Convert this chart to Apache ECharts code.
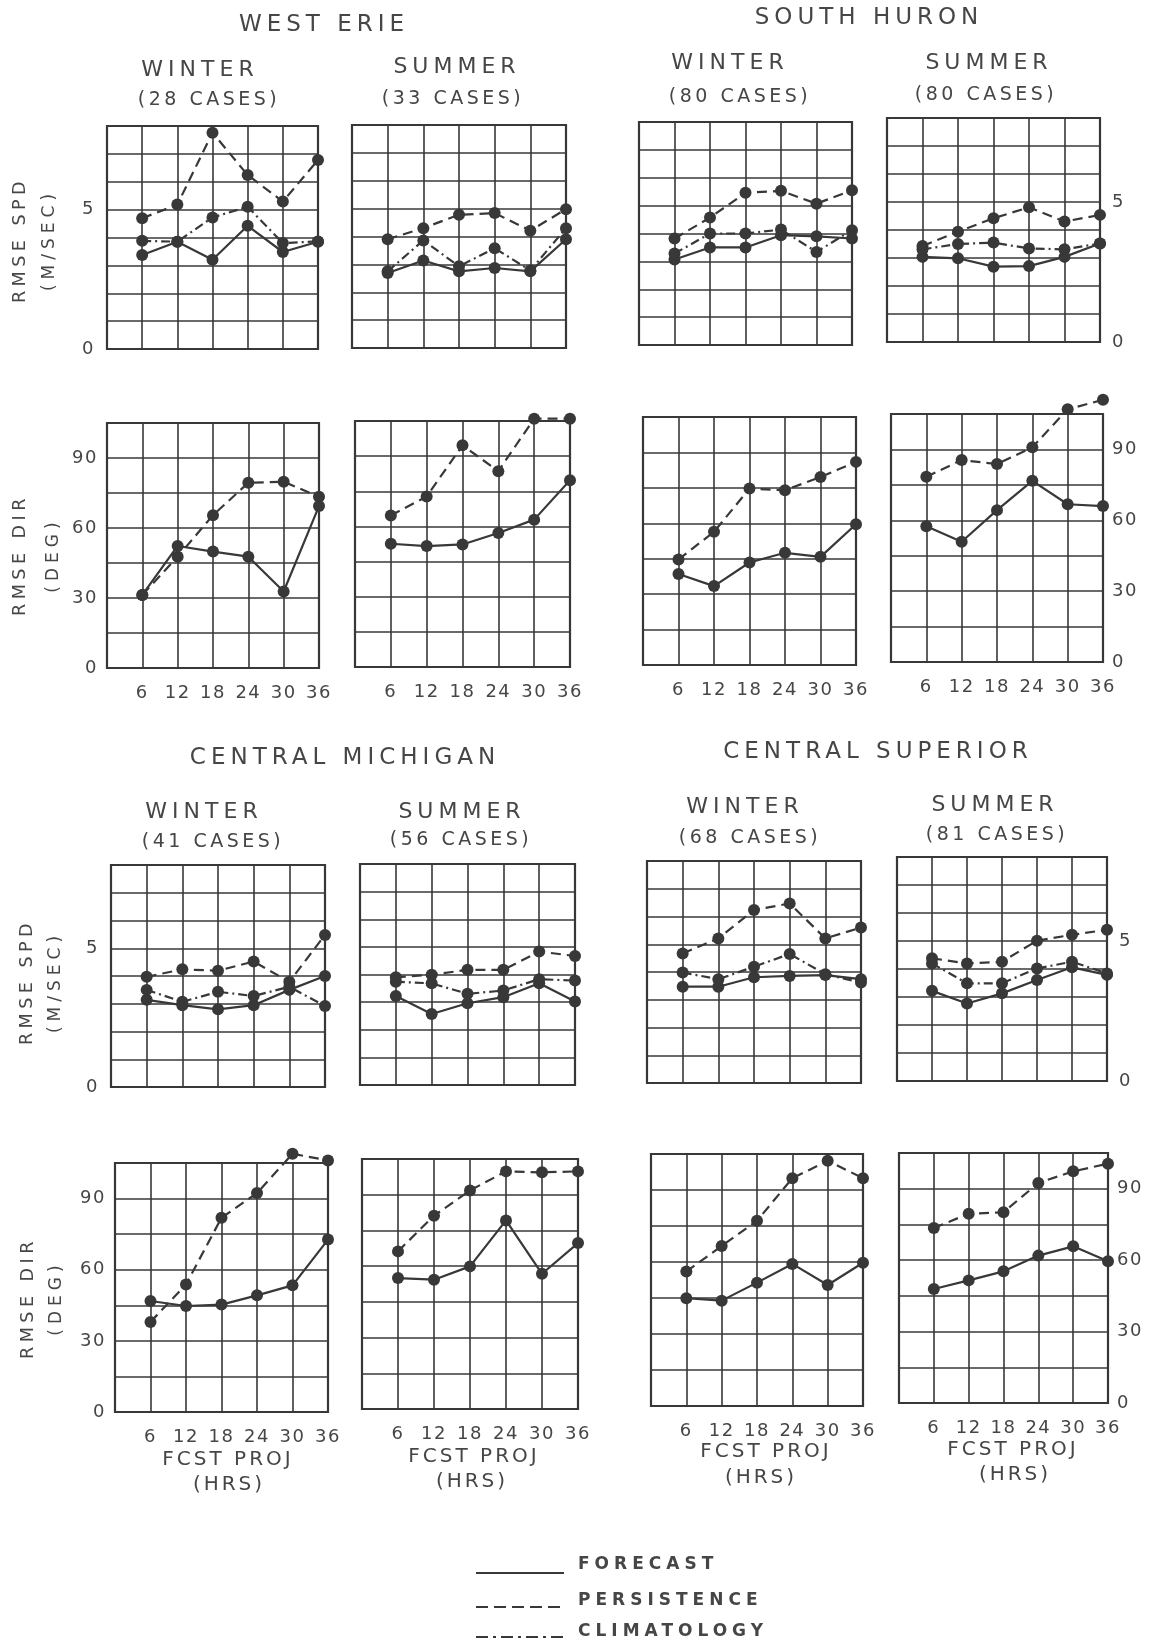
<!DOCTYPE html>
<html>
<head>
<meta charset="utf-8">
<script src="https://cdn.jsdelivr.net/npm/echarts@6/dist/echarts.min.js"></script>
<style>
html,body{margin:0;padding:0;background:#fff;}
#chart{width:1153px;height:1650px;}
</style>
</head>
<body>
<div id="chart"></div>
<script>
// ---------- DATA ----------
const hours = [6, 12, 18, 24, 30, 36];
const spdTickLabels = [0, 5];
const dirTickLabels = [0, 30, 60, 90];

// West Erie
const weWinSpdFcst = [3.37, 3.85, 3.20, 4.42, 3.48, 3.85];
const weWinSpdPers = [4.69, 5.18, 7.76, 6.24, 5.29, 6.78];
const weWinSpdClim = [3.88, 3.85, 4.72, 5.10, 3.80, 3.86];
const weSumSpdFcst = [2.69, 3.14, 2.75, 2.87, 2.75, 3.90];
const weSumSpdPers = [3.90, 4.30, 4.78, 4.84, 4.21, 4.98];
const weSumSpdClim = [2.75, 3.86, 2.93, 3.58, 2.78, 4.30];
const weWinDirFcst = [31.3, 52.3, 49.9, 47.7, 32.8, 69.4];
const weWinDirPers = [31.3, 47.7, 65.5, 79.4, 79.8, 73.4];
const weSumDirFcst = [52.6, 51.6, 52.3, 57.2, 62.9, 79.7];
const weSumDirPers = [64.7, 72.8, 94.6, 83.6, 106, 106];

// South Huron
const shWinSpdFcst = [3.07, 3.50, 3.50, 3.94, 3.90, 3.82];
const shWinSpdPers = [3.82, 4.57, 5.46, 5.53, 5.07, 5.55];
const shWinSpdClim = [3.28, 4.00, 4.00, 4.14, 3.34, 4.12];
const shSumSpdFcst = [3.04, 2.99, 2.69, 2.71, 3.04, 3.52];
const shSumSpdPers = [3.43, 3.94, 4.42, 4.81, 4.30, 4.54];
const shSumSpdClim = [3.31, 3.50, 3.55, 3.34, 3.31, 3.52];
const shWinDirFcst = [38.5, 33.4, 43.4, 47.5, 45.8, 59.6];
const shWinDirPers = [44.7, 56.4, 74.7, 74.0, 79.6, 86.0];
const shSumDirFcst = [57.5, 50.9, 64.3, 76.7, 66.8, 66.0];
const shSumDirPers = [78.4, 85.5, 83.8, 90.9, 107, 111];

// Central Michigan
const cmWinSpdFcst = [3.14, 2.95, 2.80, 2.95, 3.50, 4.00];
const cmWinSpdPers = [3.97, 4.24, 4.19, 4.52, 3.79, 5.48];
const cmWinSpdClim = [3.50, 3.07, 3.43, 3.28, 3.61, 2.92];
const cmSumSpdFcst = [3.22, 2.57, 2.96, 3.18, 3.68, 3.02];
const cmSumSpdPers = [3.90, 3.99, 4.17, 4.17, 4.83, 4.67];
const cmSumSpdClim = [3.74, 3.68, 3.30, 3.42, 3.83, 3.78];
const cmWinDirFcst = [46.8, 44.7, 45.3, 49.2, 53.4, 72.7];
const cmWinDirPers = [38.0, 53.8, 81.9, 92.3, 108.9, 106.1];
const cmSumDirFcst = [55.0, 54.3, 59.9, 79.2, 56.8, 69.7];
const cmSumDirPers = [66.2, 81.2, 91.8, 99.8, 99.4, 99.8];

// Central Superior
const csWinSpdFcst = [3.47, 3.47, 3.81, 3.86, 3.89, 3.74];
const csWinSpdPers = [4.67, 5.21, 6.23, 6.47, 5.21, 5.60];
const csWinSpdClim = [3.98, 3.74, 4.19, 4.65, 3.92, 3.62];
const csSumSpdFcst = [3.22, 2.77, 3.13, 3.61, 4.06, 3.79];
const csSumSpdPers = [4.38, 4.20, 4.26, 5.01, 5.22, 5.40];
const csSumSpdClim = [4.20, 3.49, 3.49, 4.02, 4.26, 3.84];
const csWinDirFcst = [44.9, 43.9, 51.4, 59.2, 50.4, 59.7];
const csWinDirPers = [56.0, 66.7, 77.2, 94.9, 102.2, 94.9];
const csSumDirFcst = [47.9, 51.5, 55.3, 61.9, 65.8, 59.5];
const csSumDirPers = [73.5, 79.5, 80.1, 92.4, 97.3, 100.5];

// ---------- TYPE TRACKING (wide letter spacing like the original lettering) ----------
const SPACING = {'23':5, '22':5, '19':3.5, '20':3, '18':1.5, '17':5, '17.5':4.5};
(function(){
  const proto = CanvasRenderingContext2D.prototype;
  if (!('letterSpacing' in proto)) return;
  const wrap = name => {
    const orig = proto[name];
    proto[name] = function(){
      const m = /(\d+(?:\.\d+)?)px/.exec(this.font);
      const sp = m ? (SPACING[m[1]] || 0) : 0;
      this.letterSpacing = sp + 'px';
      return orig.apply(this, arguments);
    };
  };
  wrap('fillText'); wrap('strokeText');
})();

// ---------- LAYOUT ----------
const INK = '#383838';
const TXT = '#464646';
const FONT = '"DejaVu Sans", "Open Sans", sans-serif';

const panels = [
  {box:[107,126,211,223], kind:'spd', ylab:'left',  f:weWinSpdFcst, p:weWinSpdPers, c:weWinSpdClim},
  {box:[352,125,214,223], kind:'spd', ylab:null,    f:weSumSpdFcst, p:weSumSpdPers, c:weSumSpdClim},
  {box:[639,122,213,223], kind:'spd', ylab:null,    f:shWinSpdFcst, p:shWinSpdPers, c:shWinSpdClim},
  {box:[887,118,213,224], kind:'spd', ylab:'right', f:shSumSpdFcst, p:shSumSpdPers, c:shSumSpdClim},
  {box:[107,423,212,245], kind:'dir', ylab:'left',  f:weWinDirFcst, p:weWinDirPers},
  {box:[355,421,215,246], kind:'dir', ylab:null,    f:weSumDirFcst, p:weSumDirPers},
  {box:[643,417,213,248], kind:'dir', ylab:null,    f:shWinDirFcst, p:shWinDirPers},
  {box:[891,414,212,248], kind:'dir', ylab:'right', f:shSumDirFcst, p:shSumDirPers},
  {box:[111,865,214,222], kind:'spd', ylab:'left',  f:cmWinSpdFcst, p:cmWinSpdPers, c:cmWinSpdClim},
  {box:[360,864,215,221], kind:'spd', ylab:null,    f:cmSumSpdFcst, p:cmSumSpdPers, c:cmSumSpdClim},
  {box:[647,861,214,222], kind:'spd', ylab:null,    f:csWinSpdFcst, p:csWinSpdPers, c:csWinSpdClim},
  {box:[897,857,210,224], kind:'spd', ylab:'right', f:csSumSpdFcst, p:csSumSpdPers, c:csSumSpdClim},
  {box:[115,1163,213,249], kind:'dir', ylab:'left', f:cmWinDirFcst, p:cmWinDirPers},
  {box:[362,1159,216,250], kind:'dir', ylab:null,   f:cmSumDirFcst, p:cmSumDirPers},
  {box:[651,1154,212,252], kind:'dir', ylab:null,   f:csWinDirFcst, p:csWinDirPers},
  {box:[899,1153,209,250], kind:'dir', ylab:'right',f:csSumDirFcst, p:csSumDirPers}
];

const grids = [], xAxes = [], yAxes = [], series = [];
const toPts = arr => hours.map((h, i) => [h, arr[i]]);

panels.forEach((pn, i) => {
  const [l, t, w, h] = pn.box;
  grids.push({left:l, top:t, width:w, height:h, show:true, borderColor:INK, borderWidth:2.2, backgroundColor:'transparent'});
  const isDir = pn.kind === 'dir';
  xAxes.push({
    type:'value', gridIndex:i, min:0, max:36, interval:6,
    axisLine:{show:false}, axisTick:{show:false},
    splitLine:{show:true, lineStyle:{color:INK, width:1.6}},
    axisLabel:{show:isDir, margin:16, color:TXT, fontSize:18, fontFamily:FONT,
      formatter: v => (hours.indexOf(v) >= 0 ? String(v) : '')}
  });
  const ticks = isDir ? dirTickLabels : spdTickLabels;
  yAxes.push({
    type:'value', gridIndex:i, min:0, max: isDir ? 105 : 8, interval: isDir ? 15 : 1,
    position: pn.ylab === 'right' ? 'right' : 'left',
    axisLine:{show:false}, axisTick:{show:false},
    splitLine:{show:true, lineStyle:{color:INK, width:1.6}},
    axisLabel:{show: !!pn.ylab, margin: isDir ? 9 : 12, color:TXT, fontSize:18, fontFamily:FONT,
      formatter: v => (ticks.indexOf(v) >= 0 ? String(v) : '')}
  });
  const common = {
    type:'line', xAxisIndex:i, yAxisIndex:i, symbol:'circle', symbolSize:12,
    clip:false, silent:true, z:5,
    itemStyle:{color:INK}
  };
  series.push(Object.assign({}, common, {name:'FORECAST', data:toPts(pn.f),
    lineStyle:{color:INK, width:2.2, type:'solid'}}));
  series.push(Object.assign({}, common, {name:'PERSISTENCE', data:toPts(pn.p),
    lineStyle:{color:INK, width:2.2, type:[10,6]}}));
  if (pn.c) {
    series.push(Object.assign({}, common, {name:'CLIMATOLOGY', data:toPts(pn.c),
      lineStyle:{color:INK, width:2.2, type:[9,4,2,4]}}));
  }
});

// ---------- TEXT ----------
function txt(s, x, y, size, opts) {
  return Object.assign({
    type:'text', x:x, y:y, silent:true,
    style:{text:s, fill:TXT, font:(opts && opts.bold ? 'bold ' : '') + size + 'px ' + FONT,
      textAlign:(opts && opts.align) || 'center', textVerticalAlign:'middle'}
  }, opts && opts.rot ? {rotation:Math.PI/2} : {});
}
const graphics = [
  txt('WEST ERIE', 324, 25, 23),
  txt('WINTER', 200, 70, 22), txt('(28 CASES)', 209, 100, 19),
  txt('SUMMER', 457, 67, 22),  txt('(33 CASES)', 453, 99, 19),
  txt('SOUTH HURON', 869, 18, 23),
  txt('WINTER', 730, 63, 22), txt('(80 CASES)', 740, 97, 19),
  txt('SUMMER', 989, 63, 22), txt('(80 CASES)', 986, 95, 19),
  txt('CENTRAL MICHIGAN', 345, 758, 23),
  txt('WINTER', 204, 812, 22), txt('(41 CASES)', 213, 842, 19),
  txt('SUMMER', 462, 812, 22), txt('(56 CASES)', 461, 840, 19),
  txt('CENTRAL SUPERIOR', 878, 752, 23),
  txt('WINTER', 745, 807, 22), txt('(68 CASES)', 750, 838, 19),
  txt('SUMMER', 995, 805, 22), txt('(81 CASES)', 997, 835, 19),
  txt('RMSE SPD', 20, 240, 17.5, {rot:true}), txt('(M/SEC)', 50, 240, 17, {rot:true}),
  txt('RMSE DIR', 20, 555, 17.5, {rot:true}), txt('(DEG)', 54, 555, 17, {rot:true}),
  txt('RMSE SPD', 27, 982, 17.5, {rot:true}), txt('(M/SEC)', 56, 982, 17, {rot:true}),
  txt('RMSE DIR', 28, 1298, 17.5, {rot:true}), txt('(DEG)', 57, 1298, 17, {rot:true}),
  txt('FCST PROJ', 228, 1460, 20), txt('(HRS)', 229, 1485, 20),
  txt('FCST PROJ', 474, 1457, 20), txt('(HRS)', 472, 1482, 20),
  txt('FCST PROJ', 766, 1452, 20), txt('(HRS)', 761, 1478, 20),
  txt('FCST PROJ', 1013, 1450, 20), txt('(HRS)', 1015, 1475, 20),
  // legend
  {type:'line', silent:true, shape:{x1:476, y1:1573, x2:564, y2:1573}, style:{stroke:INK, lineWidth:2}},
  {type:'line', silent:true, shape:{x1:476, y1:1607, x2:564, y2:1607}, style:{stroke:INK, lineWidth:2, lineDash:[12,6]}},
  {type:'line', silent:true, shape:{x1:476, y1:1637, x2:568, y2:1637}, style:{stroke:INK, lineWidth:2, lineDash:[12,5,3,5]}},
  txt('FORECAST', 578, 1565, 17, {align:'left', bold:true}),
  txt('PERSISTENCE', 578, 1601, 17, {align:'left', bold:true}),
  txt('CLIMATOLOGY', 578, 1632, 17, {align:'left', bold:true})
];

const chart = echarts.init(document.getElementById('chart'), null, {renderer:'canvas'});
chart.setOption({
  backgroundColor:'#ffffff',
  animation:false,
  grid:grids, xAxis:xAxes, yAxis:yAxes, series:series,
  graphic:graphics
});
</script>
</body>
</html>
